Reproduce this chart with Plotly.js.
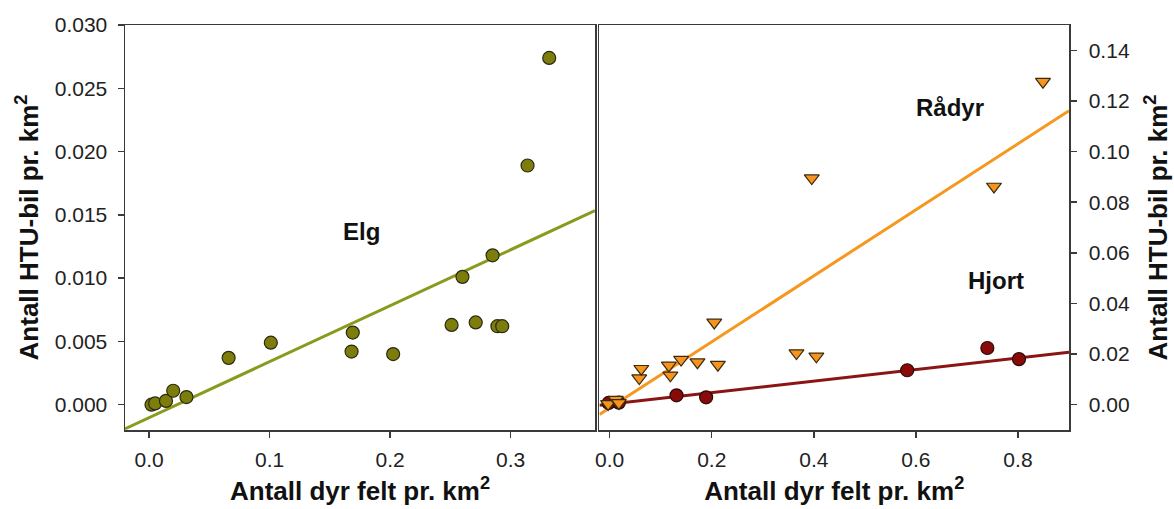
<!DOCTYPE html>
<html>
<head>
<meta charset="utf-8">
<script src="https://cdn.plot.ly/plotly-3.0.1.min.js"></script>
<style>
  html, body { margin: 0; padding: 0; background: #fff; }
  #chart { width: 1174px; height: 509px; }
</style>
</head>
<body>
<div id="chart"></div>
<script>
// ---- Data ----
const elgX = [0.002, 0.005, 0.014, 0.020, 0.031, 0.066, 0.101, 0.169, 0.168, 0.2025, 0.251, 0.271, 0.289, 0.293, 0.260, 0.285, 0.314, 0.332];
const elgY = [0.0000, 0.0001, 0.0003, 0.0011, 0.0006, 0.0037, 0.0049, 0.0057, 0.0042, 0.0040, 0.0063, 0.0065, 0.0062, 0.0062, 0.0101, 0.0118, 0.0189, 0.0274];

const radyrX = [-0.003, 0.012, 0.018, 0.058, 0.062, 0.116, 0.119, 0.140, 0.172, 0.205, 0.212, 0.366, 0.396, 0.405, 0.753, 0.849];
const radyrY = [0.0003, 0.0020, 0.0007, 0.0105, 0.0142, 0.0155, 0.0116, 0.0178, 0.0168, 0.0325, 0.0158, 0.0204, 0.0895, 0.0191, 0.0862, 0.1276];

const hjortX = [-0.002, 0.018, 0.131, 0.189, 0.583, 0.740, 0.802];
const hjortY = [0.0007, 0.0008, 0.0037, 0.0029, 0.0136, 0.0224, 0.0180];

// regression fits (slope, intercept)
const elgSlope = 0.0442, elgIntercept = -0.00102;
const radyrSlope = 0.1305, radyrIntercept = -0.0013;
const hjortSlope = 0.0228, hjortIntercept = 0.0002;

// axis ranges and ticks
const leftXRange = [-0.02, 0.37];
const leftYRange = [-0.002, 0.030];
const rightXRange = [-0.02, 0.9];
const rightYRange = [-0.01, 0.15];
const leftXTicks = [0.0, 0.1, 0.2, 0.3];
const leftXTickText = ['0.0', '0.1', '0.2', '0.3'];
const leftYTicks = [0.000, 0.005, 0.010, 0.015, 0.020, 0.025, 0.030];
const leftYTickText = ['0.000', '0.005', '0.010', '0.015', '0.020', '0.025', '0.030'];
const rightXTicks = [0.0, 0.2, 0.4, 0.6, 0.8];
const rightXTickText = ['0.0', '0.2', '0.4', '0.6', '0.8'];
const rightYTicks = [0.00, 0.02, 0.04, 0.06, 0.08, 0.10, 0.12, 0.14];
const rightYTickText = ['0.00', '0.02', '0.04', '0.06', '0.08', '0.10', '0.12', '0.14'];

const labelElg = 'Elg', labelRadyr = 'Rådyr', labelHjort = 'Hjort';
const xTitle = 'Antall dyr felt pr. km<sup>2</sup>';
const yTitle = 'Antall HTU-bil pr. km<sup>2</sup>';

// ---- Build ----
const fitLine = (range, s, b) => ({ x: range.slice(), y: range.map(v => b + s * v) });

const FONT = 'Arial, "Liberation Sans", sans-serif';
const frame = '#3a3a3a';

const elgLine = fitLine(leftXRange, elgSlope, elgIntercept);
const radyrLine = fitLine(rightXRange, radyrSlope, radyrIntercept);
const hjortLine = fitLine(rightXRange, hjortSlope, hjortIntercept);

const traces = [
  { x: elgLine.x, y: elgLine.y, xaxis: 'x', yaxis: 'y', mode: 'lines',
    line: { color: '#8a9a1e', width: 3 }, hoverinfo: 'skip' },
  { x: elgX, y: elgY, xaxis: 'x', yaxis: 'y', mode: 'markers', name: labelElg,
    marker: { symbol: 'circle', size: 13, color: '#7d7d0c', line: { color: '#2a2a10', width: 1.2 } } },
  { x: radyrLine.x, y: radyrLine.y, xaxis: 'x2', yaxis: 'y2', mode: 'lines',
    line: { color: '#f6981f', width: 3 }, hoverinfo: 'skip' },
  { x: hjortLine.x, y: hjortLine.y, xaxis: 'x2', yaxis: 'y2', mode: 'lines',
    line: { color: '#8b1414', width: 3 }, hoverinfo: 'skip' },
  { x: hjortX, y: hjortY, xaxis: 'x2', yaxis: 'y2', mode: 'markers', name: labelHjort,
    marker: { symbol: 'circle', size: 13, color: '#8a0a0a', line: { color: '#2a0a0a', width: 1.2 } } },
  { x: radyrX, y: radyrY, xaxis: 'x2', yaxis: 'y2', mode: 'markers', name: labelRadyr,
    marker: { symbol: 'triangle-down', size: 13, color: '#f7941d', line: { color: '#3a2a10', width: 1.2 } } }
];

const tickFont = { family: FONT, size: 21, color: '#222' };
const titleFont = { family: FONT, size: 26, color: '#111', weight: 'bold' };

const axisCommon = {
  showgrid: false, zeroline: false, showline: true, linecolor: frame, linewidth: 1.5,
  mirror: true, ticks: 'outside', ticklen: 6, tickwidth: 1.5, tickcolor: frame,
  tickfont: tickFont, tickmode: 'array', fixedrange: true
};

const layout = {
  width: 1174, height: 509,
  margin: { l: 125, r: 105, t: 25, b: 79, pad: 0 },
  paper_bgcolor: '#ffffff', plot_bgcolor: '#ffffff',
  showlegend: false,
  font: { family: FONT },
  xaxis: Object.assign({}, axisCommon, {
    domain: [0, 0.4979], range: leftXRange, anchor: 'y',
    tickvals: leftXTicks, ticktext: leftXTickText, ticklabelstandoff: 4,
    title: { text: xTitle, font: titleFont, standoff: 12 }
  }),
  yaxis: Object.assign({}, axisCommon, {
    domain: [0, 1], range: leftYRange, anchor: 'x',
    tickvals: leftYTicks, ticktext: leftYTickText, ticklabelstandoff: 6,
    title: { text: yTitle, font: titleFont, standoff: 8 }
  }),
  xaxis2: Object.assign({}, axisCommon, {
    domain: [0.5026, 1], range: rightXRange, anchor: 'y2',
    tickvals: rightXTicks, ticktext: rightXTickText, ticklabelstandoff: 4,
    title: { text: xTitle, font: titleFont, standoff: 12 }
  }),
  yaxis2: Object.assign({}, axisCommon, {
    domain: [0, 1], range: rightYRange, anchor: 'x2', side: 'right',
    tickvals: rightYTicks, ticktext: rightYTickText, ticklabelstandoff: 8,
    title: { text: yTitle, font: titleFont, standoff: 20 }
  }),
  annotations: [
    { xref: 'x', yref: 'y', x: 0.176, y: 0.0137, text: '<b>' + labelElg + '</b>', showarrow: false,
      font: { family: FONT, size: 24, color: '#111' } },
    { xref: 'x2', yref: 'y2', x: 0.666, y: 0.1174, text: '<b>' + labelRadyr + '</b>', showarrow: false,
      font: { family: FONT, size: 24, color: '#111' } },
    { xref: 'x2', yref: 'y2', x: 0.757, y: 0.0492, text: '<b>' + labelHjort + '</b>', showarrow: false,
      font: { family: FONT, size: 24, color: '#111' } }
  ]
};

Plotly.newPlot('chart', traces, layout, { displayModeBar: false, staticPlot: true });
</script>
</body>
</html>
